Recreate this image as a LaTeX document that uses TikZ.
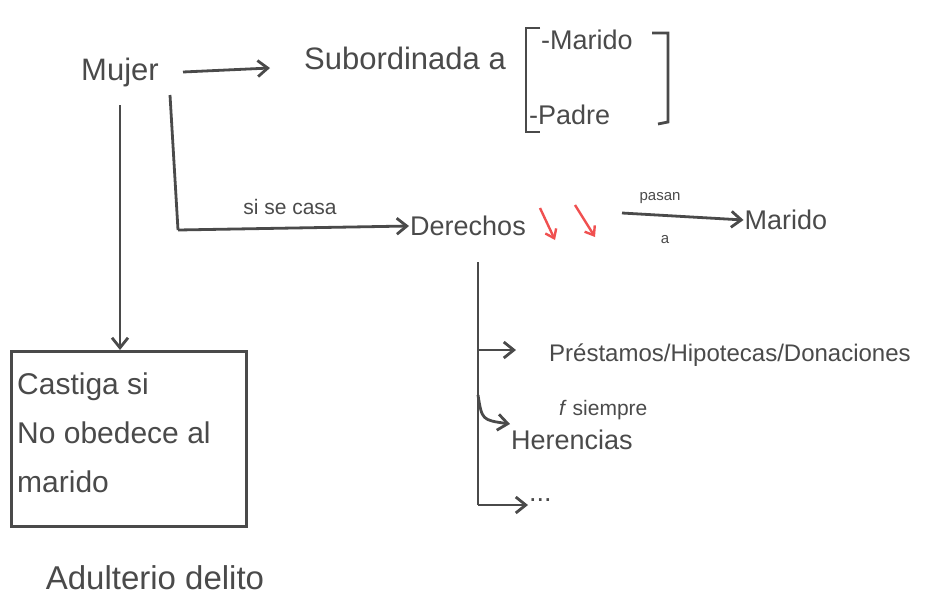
\documentclass[tikz,border=0pt]{standalone}
\usepackage{fontspec}
\setmainfont{Liberation Sans}
\usetikzlibrary{arrows.meta}
\definecolor{ink}{HTML}{4A4A4A}
\definecolor{redink}{HTML}{F05050}
\begin{document}
\begin{tikzpicture}[x=1pt,y=-1pt,
  every node/.style={text=ink,inner sep=1pt},
  txt/.style={font=\fontsize{27}{32}\selectfont},
  big/.style={font=\fontsize{31}{34}\selectfont},
  boxtxt/.style={font=\fontsize{30}{49}\selectfont},
  prestxt/.style={font=\fontsize{24}{27}\selectfont},
  small/.style={font=\fontsize{15}{17}\selectfont},
  mid/.style={font=\fontsize{21}{24}\selectfont},
  conn/.style={draw=ink,line width=2.8pt,-{Straight Barb[length=10pt,width=16pt]}},
  plain/.style={draw=ink,line width=2.8pt},
  redarrow/.style={draw=redink,line width=2.4pt,-{Straight Barb[length=8pt,width=12pt]}}]
\useasboundingbox (0,0) rectangle (930,614);
% Mujer
\node[big] (mujer) at (120,72) {Mujer};
\node[big] (sub) at (405,58) {Subordinada a};
\coordinate (m1) at (183,72);
\coordinate (m2) at (270,68);
\draw[conn] (m1) -- (m2);
% brace
\node[txt,anchor=west] (marido1) at (540,40) {-Marido};
\node[txt,anchor=west] (padre) at (528,115) {-Padre};
\draw[plain] (540,28) -- (526,28) -- (526,132) -- (540,132);
\draw[plain] (652,33) -- (668,33) -- (668,122) -- (658,124);
% Derechos
\node[txt] (der) at (468,226) {Derechos};
\coordinate (d1) at (170,95);
\coordinate (d2) at (178,230);
\draw[plain] (d1) -- (d2);
\draw[conn] (d2) -- (der.west);
\node[mid] at (290,207) {si se casa};
% red arrows
\draw[redarrow] (540,208) -- (555,240);
\draw[redarrow] (575,205) -- (595,237);
% pasan a
\node[txt] (marido2) at (786,220) {Marido};
\coordinate (p1) at (622,213);
\draw[conn] (p1) -- (marido2.west);
\node[small] at (660,198) {pasan};
\node[small] at (665,240) {a};
% Mujer down to box
\node[draw=ink,line width=2.8pt,minimum width=235pt,minimum height=175pt,anchor=north west] (box) at (10,350) {};
\node[boxtxt,anchor=north west,align=left] (boxt) at (16,372) {Castiga si\\No obedece al\\marido};
\coordinate (c1) at (120,105);
\draw[conn] (c1) -- (box.north -| c1);
\node[font=\fontsize{33}{36}\selectfont] (adul) at (155,578) {Adulterio delito};
% Derechos branches
\coordinate (v0) at (478,262);
\coordinate (v1) at (478,350);
\coordinate (v2) at (478,395);
\coordinate (v3) at (478,505);
\coordinate (h2) at (510,424);
\draw[plain] (v0) -- (v3);
\node[prestxt,anchor=west] (prest) at (548,355) {Préstamos/Hipotecas/Donaciones};
\node[txt,anchor=west] (her) at (510,440) {Herencias};
\node[mid,anchor=west] at (558,410) {\textit{f} siempre};
\node[txt,anchor=west] (dots) at (528,500) {...};
\draw[conn] (v1) -- ++(38,0);
\draw[conn] (v2) .. controls (482,420) .. (h2);
\draw[conn] (v3) -- (dots.west |- v3);
\end{tikzpicture}
\end{document}
